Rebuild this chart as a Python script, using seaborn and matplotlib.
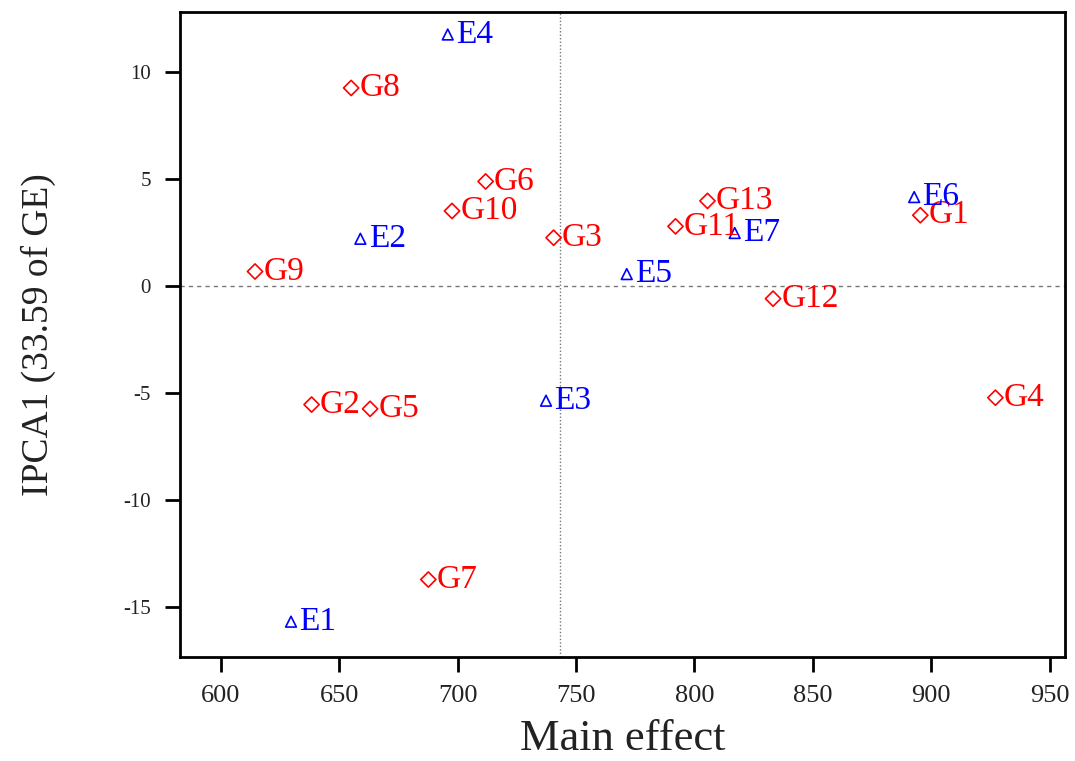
import matplotlib
matplotlib.use("Agg")
import matplotlib.pyplot as plt
import seaborn as sns
import pandas as pd

# Data
labels = ["G1", "G2", "G3", "G4", "G5", "G6", "G7", "G8", "G9", "G10", "G11", "G12", "G13",
          "E1", "E2", "E3", "E4", "E5", "E6", "E7"]
main_effect = [895.4, 638.3, 740.5, 927.1, 663.0, 711.8, 687.6, 655.0, 614.4, 697.6, 792.0, 833.2, 805.5,
               629.6, 658.9, 737.3, 695.8, 771.4, 892.8, 817.0]
ipca1 = [3.30, -5.55, 2.25, -5.23, -5.75, 4.88, -13.73, 9.25, 0.67, 3.50, 2.78, -0.60, 3.97,
         -15.70, 2.20, -5.37, 11.75, 0.55, 4.15, 2.47]
kind = ["Genotype"] * 13 + ["Environment"] * 7
mean_effect = 743.3

x_ticks = [600, 650, 700, 750, 800, 850, 900, 950]
y_ticks = [-15, -10, -5, 0, 5, 10]

df = pd.DataFrame({"label": labels, "x": main_effect, "y": ipca1, "kind": kind})

sns.set_theme(style="ticks")
plt.rcParams["font.family"] = ["Liberation Serif", "DejaVu Serif"]
plt.rcParams["axes.unicode_minus"] = False

fig = plt.figure(figsize=(10.75, 7.61), dpi=100)
ax = fig.add_axes([0.1674, 0.1367, 0.8233, 0.8475])

palette = {"Genotype": "#ff0000", "Environment": "#0000ff"}
markers = {"Genotype": "D", "Environment": "^"}

for k in ["Genotype", "Environment"]:
    sub = df[df["kind"] == k]
    sns.scatterplot(data=sub, x="x", y="y", ax=ax, marker=markers[k],
                    s=60,
                    facecolors="none", edgecolor=palette[k], linewidth=1.2, legend=False)

for _, r in df.iterrows():
    ax.annotate(r["label"], (r["x"], r["y"]), xytext=(6, 0), textcoords="offset points",
                ha="left", va="center", fontsize=24, color=palette[r["kind"]])

ax.axvline(mean_effect, color="#777777", linestyle=(0, (1, 1.5)), linewidth=1.0, zorder=0)
ax.axhline(0, color="#777777", linestyle=(0, (3, 3)), linewidth=1.0, zorder=0)

ax.set_xlim(582.7, 956.5)
ax.set_ylim(-17.35, 12.8)
ax.set_xticks(x_ticks)
ax.set_yticks(y_ticks)
ax.tick_params(axis="x", labelsize=19, length=11, width=2, direction="out", pad=9, colors="black")
ax.tick_params(axis="y", labelsize=15, length=11, width=2, direction="out", pad=10, colors="black")
for lbl in ax.get_xticklabels() + ax.get_yticklabels():
    lbl.set_color("#222222")

for sp in ax.spines.values():
    sp.set_visible(True)
    sp.set_linewidth(2)
    sp.set_color("black")

ax.set_xlabel("Main effect", fontsize=32, labelpad=9, color="#222222")
ax.set_ylabel("IPCA1 (33.59 of GE)", fontsize=27, labelpad=48, color="#222222")
ax.grid(False)

fig.savefig("out.png", dpi=100, facecolor="white")
